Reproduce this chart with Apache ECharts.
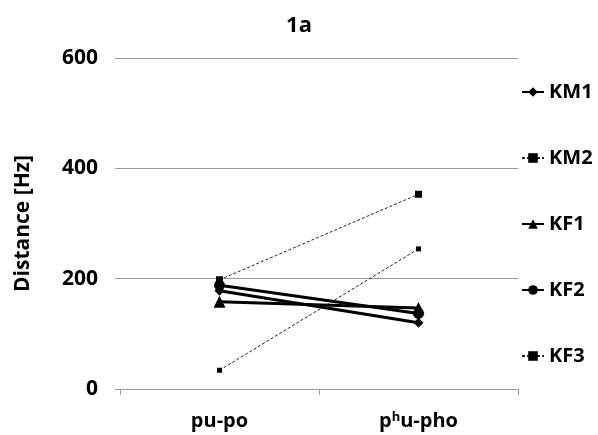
<!DOCTYPE html>
<html>
<head>
<meta charset="utf-8">
<script src="https://cdn.jsdelivr.net/npm/echarts@6/dist/echarts.min.js"></script>
<style>
  html, body { margin: 0; padding: 0; background: #fff; }
  #chart { width: 598px; height: 435px; }
</style>
</head>
<body>
<div id="chart"></div>
<script>
  const categories = ['pu-po', 'phu-pho']
  const km1 = [178, 120]
  const km2 = [198, 353]
  const kf1 = [158, 147]
  const kf2 = [188, 137]
  const kf3 = [34, 254]
  const yTicks = [0, 200, 400, 600]

  const font = 'Open Sans'
  const mychart = echarts.init(document.getElementById('chart'))

  function solid(name, data, symbol, size) {
    return {
      name: name,
      type: 'line',
      data: data,
      symbol: symbol,
      symbolSize: size,
      lineStyle: { color: '#000', width: 3 },
      itemStyle: { color: '#000' },
    }
  }
  function dotted(name, data, size) {
    return {
      name: name,
      type: 'line',
      data: data,
      symbol: 'rect',
      symbolSize: size,
      lineStyle: { color: '#222', width: 1, type: [3, 2] },
      itemStyle: { color: '#000' },
    }
  }

  mychart.setOption({
    animation: false,
    textStyle: { fontFamily: font },
    title: {
      text: '1a',
      left: 'center',
      top: 10,
      textStyle: { fontFamily: font, fontWeight: 'bold', fontSize: 22, color: '#000' },
    },
    grid: { left: 120, right: 80, top: 58, bottom: 46 },
    legend: {
      orient: 'vertical',
      left: 516,
      top: 77,
      itemGap: 46,
      itemWidth: 22,
      itemHeight: 12,
      textStyle: { fontFamily: font, fontWeight: 'bold', fontSize: 20, color: '#000' },
      data: ['KM1', 'KM2', 'KF1', 'KF2', 'KF3'],
    },
    xAxis: {
      type: 'category',
      data: categories,
      axisLine: { lineStyle: { color: '#999' } },
      axisTick: { show: true, length: 6, lineStyle: { color: '#999' } },
      axisLabel: {
        margin: 22,
        fontFamily: font,
        fontWeight: 'bold',
        fontSize: 20,
        color: '#000',
        formatter: function (v) {
          return v === 'phu-pho' ? 'p{sup|h}u-pho' : v
        },
        rich: {
          sup: { fontFamily: font, fontWeight: 'bold', fontSize: 13, color: '#000', verticalAlign: 'top', padding: [0, 0, 8, 0] },
        },
      },
    },
    yAxis: {
      type: 'value',
      min: yTicks[0],
      max: yTicks[yTicks.length - 1],
      interval: 200,
      name: 'Distance [Hz]',
      nameLocation: 'middle',
      nameGap: 86,
      nameTextStyle: { fontFamily: font, fontWeight: 'bold', fontSize: 21, color: '#000' },
      axisLine: { show: false },
      axisTick: { show: true, length: 5, lineStyle: { color: '#999' } },
      axisLabel: { margin: 22, fontFamily: font, fontWeight: 'bold', fontSize: 21, color: '#000' },
      splitLine: { lineStyle: { color: '#999', width: 1 } },
    },
    series: [
      solid('KM1', km1, 'diamond', 10),
      dotted('KM2', km2, 7),
      solid('KF1', kf1, 'triangle', 12),
      solid('KF2', kf2, 'circle', 11),
      dotted('KF3', kf3, 5),
    ],
  })
</script>
</body>
</html>
